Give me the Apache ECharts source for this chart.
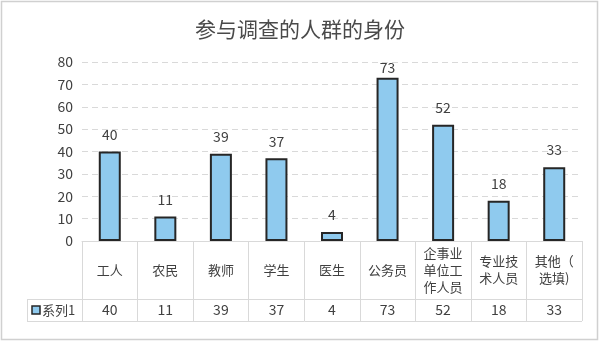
<!DOCTYPE html>
<html>
<head>
<meta charset="utf-8">
<script src="https://cdn.jsdelivr.net/npm/echarts@6/dist/echarts.min.js"></script>
<style>
  html, body { margin: 0; padding: 0; background: #fff; }
  #chart { width: 600px; height: 351px; }
</style>
</head>
<body>
<div id="chart"></div>
<script>
// 数据
var categories = ['工人', '农民', '教师', '学生', '医生', '公务员', '企事业\n单位工\n作人员', '专业技\n术人员', '其他（\n选填)'];
var values = [40, 11, 39, 37, 4, 73, 52, 18, 33];
var seriesName = '系列1';
var yTicks = [0, 10, 20, 30, 40, 50, 60, 70, 80];

var FONT = '"Noto Sans CJK SC", "Microsoft YaHei", sans-serif';
var TXT = '#404040';
var LINE = '#d9d9d9';
var BAR = '#8fcaee';

// 绘图区
var gl = 82, gr = 582, gt = 62, gb = 241;
var row1 = 299, row2 = 321, legLeft = 27;

var myChart = echarts.init(document.getElementById('chart'));

var option = {
  animation: false,
  title: {
    text: '参与调查的人群的身份',
    left: 'center',
    top: 14,
    textStyle: { fontFamily: FONT, fontSize: 21, fontWeight: 'normal', color: '#4a4a4a' }
  },
  grid: { left: gl, right: 600 - gr, top: gt, bottom: 351 - gb },
  xAxis: [
    {
      type: 'category',
      data: categories,
      axisLine: { show: true, lineStyle: { color: LINE, width: 1 } },
      axisTick: { show: true, length: row2 - gb, lineStyle: { color: LINE } },
      axisLabel: {
        interval: 0, margin: 29, verticalAlign: 'middle', lineHeight: 17,
        fontFamily: FONT, fontSize: 13, color: TXT
      }
    },
    {
      type: 'category',
      position: 'bottom',
      data: categories,
      axisLine: { show: false },
      axisTick: { show: false },
      axisLabel: {
        interval: 0, margin: 69, verticalAlign: 'middle',
        fontFamily: FONT, fontSize: 14, color: TXT,
        formatter: function (v, i) { return String(values[i]); }
      }
    }
  ],
  yAxis: {
    type: 'value',
    min: yTicks[0],
    max: yTicks[yTicks.length - 1],
    interval: 10,
    axisLine: { show: false },
    axisTick: { show: false },
    axisLabel: { margin: 9, fontFamily: FONT, fontSize: 14, color: TXT },
    splitLine: {
      show: true,
      lineStyle: { color: LINE, type: [6, 4], width: 1 },
      showMinLine: false
    }
  },
  series: [
    {
      name: seriesName,
      type: 'bar',
      barWidth: 22,
      data: values.map(function (v) {
        // 73 标签贴近顶部
        return v === 73 ? { value: v, label: { distance: 3 } } : v;
      }),
      itemStyle: { color: BAR, borderColor: '#262626', borderWidth: 2 },
      label: {
        show: true, position: 'top', distance: 10,
        fontFamily: FONT, fontSize: 14, color: TXT
      }
    }
  ],
  graphic: [
    // 外框
    { type: 'rect', shape: { x: 1.5, y: 1.5, width: 596, height: 338 }, style: { fill: 'none', stroke: '#d0d0d0', lineWidth: 1.5 }, silent: true },
    // 数据表横线
    { type: 'line', shape: { x1: legLeft, y1: row1 + 0.5, x2: gr, y2: row1 + 0.5 }, style: { stroke: LINE, lineWidth: 1 } },
    { type: 'line', shape: { x1: legLeft, y1: row2 + 0.5, x2: gr, y2: row2 + 0.5 }, style: { stroke: LINE, lineWidth: 1 } },
    { type: 'line', shape: { x1: legLeft + 0.5, y1: row1, x2: legLeft + 0.5, y2: row2 }, style: { stroke: LINE, lineWidth: 1 } },
    // 图例
    { type: 'rect', shape: { x: 32, y: 306, width: 8, height: 8 }, style: { fill: BAR, stroke: '#262626', lineWidth: 1.5 } },
    { type: 'text', x: 42, y: 310, style: { text: seriesName, fontFamily: FONT, fontSize: 13, fill: TXT, verticalAlign: 'middle' } }
  ]
};

myChart.setOption(option);
window.onresize = function () { myChart.resize(); };
</script>
</body>
</html>
